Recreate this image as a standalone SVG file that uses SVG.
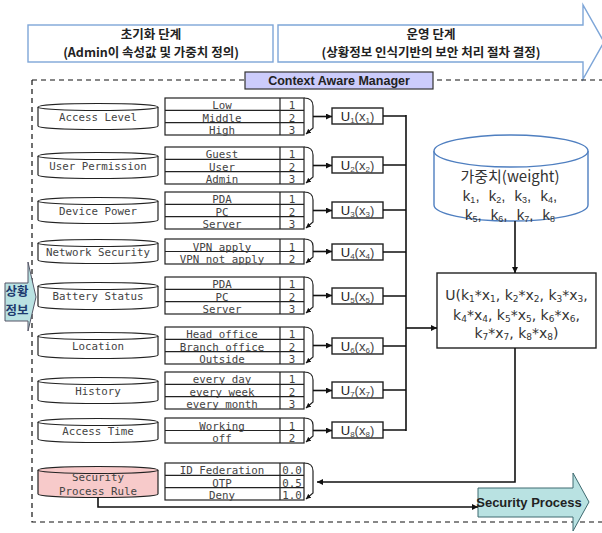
<svg xmlns="http://www.w3.org/2000/svg" width="602" height="533" viewBox="0 0 602 533">
  <style>
    .cyl { fill: #fff; stroke: #222; stroke-width: 1.2; }
    .cyl-red { fill: #f7caca; stroke: #222; stroke-width: 1.2; }
    .cyl-txt { font-family: "DejaVu Sans Mono", monospace; font-size: 10.8px; fill: #444; text-anchor: middle; }
    .tbl { fill: #fff; stroke: #222; stroke-width: 1.2; }
    .row { stroke: #222; stroke-width: 1.2; }
    .tbl-txt { font-family: "DejaVu Sans Mono", monospace; font-size: 10.8px; fill: #444; text-anchor: middle; }
    .brk { fill: none; stroke: #222; stroke-width: 1.2; }
    .wire { fill: none; stroke: #111; stroke-width: 1.6; }
    .ubox { fill: #fff; stroke: #222; stroke-width: 1.4; }
    .u-txt { font-family: "Liberation Sans", Arial, sans-serif; font-size: 13px; fill: #444; text-anchor: middle; }
    .hdr { fill: #fff; stroke: #7ea6d8; stroke-width: 1.4; }
    .hdr-txt { font-family: "Noto Sans CJK KR", sans-serif; font-size: 12.5px; font-weight: bold; fill: #222; text-anchor: middle; }
    .big-txt { font-family: "DejaVu Sans", sans-serif; font-size: 14px; fill: #333; text-anchor: middle; }
    .w-txt { font-family: "Noto Sans CJK KR", sans-serif; font-size: 15px; fill: #333; text-anchor: middle; }
    .k-txt { font-family: "Liberation Sans", Arial, sans-serif; font-size: 15px; fill: #333; text-anchor: middle; word-spacing: 5px; }
  </style>
  <defs>
    <marker id="ah" viewBox="0 0 10 10" refX="10" refY="5" markerWidth="6" markerHeight="6" orient="auto" markerUnits="userSpaceOnUse">
      <path d="M0,0 L10,5 L0,10 z" fill="#111"/>
    </marker>
    <marker id="ah-s" viewBox="0 0 10 10" refX="10" refY="5" markerWidth="5" markerHeight="5" orient="auto" markerUnits="userSpaceOnUse">
      <path d="M0,0 L10,5 L0,10 z" fill="#111"/>
    </marker>
  </defs>

  <!-- phase headers -->
  <g id="phase-init">
    <rect class="hdr" x="28" y="25" width="245" height="37"/>
    <text class="hdr-txt" x="151" y="38.5" font-weight="normal">초기화 단계</text>
    <text class="hdr-txt" x="151" y="57">(Admin이 속성값 및 가중치 정의)</text>
  </g>
  <g id="phase-run">
    <path class="hdr" d="M278,25 L583,25 L583,5 L604,42 L583,79 L583,62 L278,62 z"/>
    <text class="hdr-txt" x="431" y="38.5" font-weight="normal">운영 단계</text>
    <text class="hdr-txt" x="431" y="57">(상황정보 인식기반의 보안 처리 절차 결정)</text>
  </g>

  <!-- manager boundary -->
  <g id="manager-frame">
    <path d="M32,80 L602,80 M32,80 L32,522 L602,522" fill="none" stroke="#111" stroke-width="1.2" stroke-dasharray="5,4"/>
    <rect x="245" y="72" width="188" height="17" fill="#ccccfb" stroke="#333" stroke-width="1.2"/>
    <text x="339" y="85" font-family="Liberation Sans, Arial, sans-serif" font-size="12.5" font-weight="bold" fill="#222" text-anchor="middle">Context Aware Manager</text>
  </g>

  <!-- context input arrow -->
  <g id="context-input">
    <path d="M5,283 L28,283 L28,262 L36,297 L28,331 L28,321 L5,321 z" fill="#b9e2e2" stroke="#556" stroke-width="1"/>
    <text x="17" y="295.5" font-family="Noto Sans CJK KR, sans-serif" font-size="12.5" font-weight="bold" fill="#1d3a6e" text-anchor="middle">상황</text>
    <text x="17" y="314.5" font-family="Noto Sans CJK KR, sans-serif" font-size="12.5" font-weight="bold" fill="#1d3a6e" text-anchor="middle">정보</text>
  </g>

  <!-- attribute 1 -->
  <g id="access-level">
    <path class="cyl" d="M38,107 L38,126 A60,3.5 0 0 0 158,126 L158,107"/>
    <ellipse class="cyl" cx="98" cy="107" rx="60" ry="3.5"/>
    <text class="cyl-txt" x="98" y="121">Access Level</text>
    <rect class="tbl" x="165" y="98" width="139" height="37"/>
    <path class="row" d="M165,110.3 H304 M165,122.7 H304 M280,98 V135"/>
    <text class="tbl-txt" x="222" y="109">Low</text><text class="tbl-txt" x="292" y="109">1</text>
    <text class="tbl-txt" x="222" y="121.5">Middle</text><text class="tbl-txt" x="292" y="121.5">2</text>
    <text class="tbl-txt" x="222" y="134">High</text><text class="tbl-txt" x="292" y="134">3</text>
    <path class="brk" d="M304,98 Q313,98 313,106 L313,128 L306,134" marker-end="url(#ah-s)"/>
    <rect class="ubox" x="332" y="108" width="51" height="16"/>
    <text class="u-txt" x="357.5" y="121"><tspan fill="#222">U</tspan><tspan font-size="8" dy="2">1</tspan><tspan dy="-2">(x</tspan><tspan font-size="8" dy="2">1</tspan><tspan dy="-2">)</tspan></text>
  </g>

  <!-- attribute 2 -->
  <g id="user-permission">
    <path class="cyl" d="M38,156 L38,175 A60,3.5 0 0 0 158,175 L158,156"/>
    <ellipse class="cyl" cx="98" cy="156" rx="60" ry="3.5"/>
    <text class="cyl-txt" x="98" y="170">User Permission</text>
    <rect class="tbl" x="165" y="147" width="139" height="37"/>
    <path class="row" d="M165,159.3 H304 M165,171.7 H304 M280,147 V184"/>
    <text class="tbl-txt" x="222" y="158">Guest</text><text class="tbl-txt" x="292" y="158">1</text>
    <text class="tbl-txt" x="222" y="170.5">User</text><text class="tbl-txt" x="292" y="170.5">2</text>
    <text class="tbl-txt" x="222" y="183">Admin</text><text class="tbl-txt" x="292" y="183">3</text>
    <path class="brk" d="M304,147 Q313,147 313,155 L313,177 L306,183" marker-end="url(#ah-s)"/>
    <rect class="ubox" x="332" y="157" width="51" height="16"/>
    <text class="u-txt" x="357.5" y="170"><tspan fill="#222">U</tspan><tspan font-size="8" dy="2">2</tspan><tspan dy="-2">(x</tspan><tspan font-size="8" dy="2">2</tspan><tspan dy="-2">)</tspan></text>
  </g>

  <!-- attribute 3 -->
  <g id="device-power">
    <path class="cyl" d="M38,201 L38,220 A60,3.5 0 0 0 158,220 L158,201"/>
    <ellipse class="cyl" cx="98" cy="201" rx="60" ry="3.5"/>
    <text class="cyl-txt" x="98" y="215">Device Power</text>
    <rect class="tbl" x="165" y="192" width="139" height="37"/>
    <path class="row" d="M165,204.3 H304 M165,216.7 H304 M280,192 V229"/>
    <text class="tbl-txt" x="222" y="203">PDA</text><text class="tbl-txt" x="292" y="203">1</text>
    <text class="tbl-txt" x="222" y="215.5">PC</text><text class="tbl-txt" x="292" y="215.5">2</text>
    <text class="tbl-txt" x="222" y="228">Server</text><text class="tbl-txt" x="292" y="228">3</text>
    <path class="brk" d="M304,192 Q313,192 313,200 L313,222 L306,228" marker-end="url(#ah-s)"/>
    <rect class="ubox" x="332" y="202" width="51" height="16"/>
    <text class="u-txt" x="357.5" y="215"><tspan fill="#222">U</tspan><tspan font-size="8" dy="2">3</tspan><tspan dy="-2">(x</tspan><tspan font-size="8" dy="2">3</tspan><tspan dy="-2">)</tspan></text>
  </g>

  <!-- attribute 4 -->
  <g id="network-security">
    <path class="cyl" d="M38,243 L38,260 A60,3.5 0 0 0 158,260 L158,243"/>
    <ellipse class="cyl" cx="98" cy="243" rx="60" ry="3.5"/>
    <text class="cyl-txt" x="98" y="256">Network Security</text>
    <rect class="tbl" x="165" y="239" width="139" height="25"/>
    <path class="row" d="M165,251.5 H304 M280,239 V264"/>
    <text class="tbl-txt" x="222" y="250.5">VPN apply</text><text class="tbl-txt" x="292" y="250.5">1</text>
    <text class="tbl-txt" x="222" y="263">VPN not apply</text><text class="tbl-txt" x="292" y="263">2</text>
    <path class="brk" d="M304,239 Q313,239 313,246 L313,257 L306,263" marker-end="url(#ah-s)"/>
    <rect class="ubox" x="332" y="244" width="51" height="16"/>
    <text class="u-txt" x="357.5" y="257"><tspan fill="#222">U</tspan><tspan font-size="8" dy="2">4</tspan><tspan dy="-2">(x</tspan><tspan font-size="8" dy="2">4</tspan><tspan dy="-2">)</tspan></text>
  </g>

  <!-- attribute 5 -->
  <g id="battery-status">
    <path class="cyl" d="M38,286 L38,306 A60,3.5 0 0 0 158,306 L158,286"/>
    <ellipse class="cyl" cx="98" cy="286" rx="60" ry="3.5"/>
    <text class="cyl-txt" x="98" y="300">Battery Status</text>
    <rect class="tbl" x="165" y="277" width="139" height="37"/>
    <path class="row" d="M165,289.3 H304 M165,301.7 H304 M280,277 V314"/>
    <text class="tbl-txt" x="222" y="288">PDA</text><text class="tbl-txt" x="292" y="288">1</text>
    <text class="tbl-txt" x="222" y="300.5">PC</text><text class="tbl-txt" x="292" y="300.5">2</text>
    <text class="tbl-txt" x="222" y="313">Server</text><text class="tbl-txt" x="292" y="313">3</text>
    <path class="brk" d="M304,277 Q313,277 313,285 L313,307 L306,313" marker-end="url(#ah-s)"/>
    <rect class="ubox" x="332" y="288" width="51" height="16"/>
    <text class="u-txt" x="357.5" y="301"><tspan fill="#222">U</tspan><tspan font-size="8" dy="2">5</tspan><tspan dy="-2">(x</tspan><tspan font-size="8" dy="2">5</tspan><tspan dy="-2">)</tspan></text>
  </g>

  <!-- attribute 6 -->
  <g id="location">
    <path class="cyl" d="M38,336 L38,355 A60,3.5 0 0 0 158,355 L158,336"/>
    <ellipse class="cyl" cx="98" cy="336" rx="60" ry="3.5"/>
    <text class="cyl-txt" x="98" y="350">Location</text>
    <rect class="tbl" x="165" y="327" width="139" height="37"/>
    <path class="row" d="M165,339.3 H304 M165,351.7 H304 M280,327 V364"/>
    <text class="tbl-txt" x="222" y="338">Head office</text><text class="tbl-txt" x="292" y="338">1</text>
    <text class="tbl-txt" x="222" y="350.5">Branch office</text><text class="tbl-txt" x="292" y="350.5">2</text>
    <text class="tbl-txt" x="222" y="363">Outside</text><text class="tbl-txt" x="292" y="363">3</text>
    <path class="brk" d="M304,327 Q313,327 313,335 L313,357 L306,363" marker-end="url(#ah-s)"/>
    <rect class="ubox" x="332" y="338" width="51" height="16"/>
    <text class="u-txt" x="357.5" y="351"><tspan fill="#222">U</tspan><tspan font-size="8" dy="2">6</tspan><tspan dy="-2">(x</tspan><tspan font-size="8" dy="2">6</tspan><tspan dy="-2">)</tspan></text>
  </g>

  <!-- attribute 7 -->
  <g id="history">
    <path class="cyl" d="M38,381 L38,400 A60,3.5 0 0 0 158,400 L158,381"/>
    <ellipse class="cyl" cx="98" cy="381" rx="60" ry="3.5"/>
    <text class="cyl-txt" x="98" y="395">History</text>
    <rect class="tbl" x="165" y="372" width="139" height="37"/>
    <path class="row" d="M165,384.3 H304 M165,396.7 H304 M280,372 V409"/>
    <text class="tbl-txt" x="222" y="383">every day</text><text class="tbl-txt" x="292" y="383">1</text>
    <text class="tbl-txt" x="222" y="395.5">every week</text><text class="tbl-txt" x="292" y="395.5">2</text>
    <text class="tbl-txt" x="222" y="408">every month</text><text class="tbl-txt" x="292" y="408">3</text>
    <path class="brk" d="M304,372 Q313,372 313,380 L313,402 L306,408" marker-end="url(#ah-s)"/>
    <rect class="ubox" x="332" y="382" width="51" height="16"/>
    <text class="u-txt" x="357.5" y="395"><tspan fill="#222">U</tspan><tspan font-size="8" dy="2">7</tspan><tspan dy="-2">(x</tspan><tspan font-size="8" dy="2">7</tspan><tspan dy="-2">)</tspan></text>
  </g>

  <!-- attribute 8 -->
  <g id="access-time">
    <path class="cyl" d="M38,422 L38,439 A60,3.5 0 0 0 158,439 L158,422"/>
    <ellipse class="cyl" cx="98" cy="422" rx="60" ry="3.5"/>
    <text class="cyl-txt" x="98" y="435">Access Time</text>
    <rect class="tbl" x="165" y="418" width="139" height="25"/>
    <path class="row" d="M165,430.5 H304 M280,418 V443"/>
    <text class="tbl-txt" x="222" y="429.5">Working</text><text class="tbl-txt" x="292" y="429.5">1</text>
    <text class="tbl-txt" x="222" y="442">off</text><text class="tbl-txt" x="292" y="442">2</text>
    <path class="brk" d="M304,418 Q313,418 313,425 L313,436 L306,442" marker-end="url(#ah-s)"/>
    <rect class="ubox" x="332" y="422" width="51" height="16"/>
    <text class="u-txt" x="357.5" y="435"><tspan fill="#222">U</tspan><tspan font-size="8" dy="2">8</tspan><tspan dy="-2">(x</tspan><tspan font-size="8" dy="2">8</tspan><tspan dy="-2">)</tspan></text>
  </g>

  <!-- security process rule -->
  <g id="security-process-rule">
    <path class="cyl-red" d="M38,470 L38,494 A60,3.5 0 0 0 158,494 L158,470"/>
    <ellipse class="cyl-red" cx="98" cy="470" rx="60" ry="3.5"/>
    <text class="cyl-txt" x="98" y="481" fill="#666">Security</text>
    <text class="cyl-txt" x="98" y="495" fill="#666">Process Rule</text>
    <rect class="tbl" x="165" y="463" width="139" height="37"/>
    <path class="row" d="M165,475.3 H304 M165,487.7 H304 M280,463 V500"/>
    <text class="tbl-txt" x="222" y="474">ID Federation</text><text class="tbl-txt" x="292" y="474">0.0</text>
    <text class="tbl-txt" x="222" y="486.5">OTP</text><text class="tbl-txt" x="292" y="486.5">0.5</text>
    <text class="tbl-txt" x="222" y="499">Deny</text><text class="tbl-txt" x="292" y="499">1.0</text>
    <path class="brk" d="M304,463 Q313,463 313,471 L313,493 L306,499" marker-end="url(#ah-s)"/>
  </g>

  <!-- weight store -->
  <g id="weights">
    <path d="M434,151 L434,205 A77,16 0 0 0 588,205 L588,151" fill="#fff" stroke="#4f7fc0" stroke-width="1.4"/>
    <ellipse cx="511" cy="151" rx="77" ry="16" fill="#fff" stroke="#4f7fc0" stroke-width="1.4"/>
    <text class="w-txt" x="510" y="182">가중치(weight)</text>
    <text class="k-txt" x="510" y="201">k<tspan font-size="9" dy="1.5">1</tspan><tspan dy="-1.5">, k</tspan><tspan font-size="9" dy="1.5">2</tspan><tspan dy="-1.5">, k</tspan><tspan font-size="9" dy="1.5">3</tspan><tspan dy="-1.5">, k</tspan><tspan font-size="9" dy="1.5">4</tspan><tspan dy="-1.5">,</tspan></text>
    <text class="k-txt" x="510" y="220">k<tspan font-size="9" dy="1.5">5</tspan><tspan dy="-1.5">, k</tspan><tspan font-size="9" dy="1.5">6</tspan><tspan dy="-1.5">, k</tspan><tspan font-size="9" dy="1.5">7</tspan><tspan dy="-1.5">, k</tspan><tspan font-size="9" dy="1.5">8</tspan></text>
  </g>

  <!-- utility function -->
  <g id="utility">
    <rect x="437" y="273" width="159" height="75" fill="#fff" stroke="#222" stroke-width="1.4"/>
    <text class="big-txt" x="516.5" y="300">U(k<tspan font-size="9" dy="2">1</tspan><tspan dy="-2">*x</tspan><tspan font-size="9" dy="2">1</tspan><tspan dy="-2">, k</tspan><tspan font-size="9" dy="2">2</tspan><tspan dy="-2">*x</tspan><tspan font-size="9" dy="2">2</tspan><tspan dy="-2">, k</tspan><tspan font-size="9" dy="2">3</tspan><tspan dy="-2">*x</tspan><tspan font-size="9" dy="2">3</tspan><tspan dy="-2">,</tspan></text>
    <text class="big-txt" x="516.5" y="320">k<tspan font-size="9" dy="2">4</tspan><tspan dy="-2">*x</tspan><tspan font-size="9" dy="2">4</tspan><tspan dy="-2">, k</tspan><tspan font-size="9" dy="2">5</tspan><tspan dy="-2">*x</tspan><tspan font-size="9" dy="2">5</tspan><tspan dy="-2">, k</tspan><tspan font-size="9" dy="2">6</tspan><tspan dy="-2">*x</tspan><tspan font-size="9" dy="2">6</tspan><tspan dy="-2">,</tspan></text>
    <text class="big-txt" x="516.5" y="338">k<tspan font-size="9" dy="2">7</tspan><tspan dy="-2">*x</tspan><tspan font-size="9" dy="2">7</tspan><tspan dy="-2">, k</tspan><tspan font-size="9" dy="2">8</tspan><tspan dy="-2">*x</tspan><tspan font-size="9" dy="2">8</tspan><tspan dy="-2">)</tspan></text>
  </g>

  <!-- security process output -->
  <g id="security-process">
    <path d="M478,488 L573,488 L573,473 L589,502 L573,531 L573,517 L478,517 z" fill="#b9e2e2" stroke="#3e6a70" stroke-width="1"/>
    <text x="529" y="507" font-family="Liberation Sans, Arial, sans-serif" font-size="13" font-weight="bold" fill="#222" text-anchor="middle">Security Process</text>
  </g>

  <!-- connectors -->
  <g id="connectors">
    <path class="wire" d="M313,116.5 H332" marker-end="url(#ah)"/>
    <path class="wire" d="M313,165.5 H332" marker-end="url(#ah)"/>
    <path class="wire" d="M313,210.5 H332" marker-end="url(#ah)"/>
    <path class="wire" d="M313,251.5 H332" marker-end="url(#ah)"/>
    <path class="wire" d="M313,295.5 H332" marker-end="url(#ah)"/>
    <path class="wire" d="M313,345.5 H332" marker-end="url(#ah)"/>
    <path class="wire" d="M313,390.5 H332" marker-end="url(#ah)"/>
    <path class="wire" d="M313,430.5 H332" marker-end="url(#ah)"/>
    <path class="wire" d="M383,116 H406 M383,165 H406 M383,210 H406 M383,252 H406 M383,296 H406 M383,346 H406 M383,390 H406 M383,430 H406 M406,115 V431"/>
    <path class="wire" d="M406,328 H437" marker-end="url(#ah)"/>
    <path class="wire" d="M515,221 V273" marker-end="url(#ah)"/>
    <path class="wire" d="M515,348 V482 H317" marker-end="url(#ah)"/>
    <path class="wire" d="M98,497.5 V507 H478" marker-end="url(#ah)"/>
  </g>
</svg>
